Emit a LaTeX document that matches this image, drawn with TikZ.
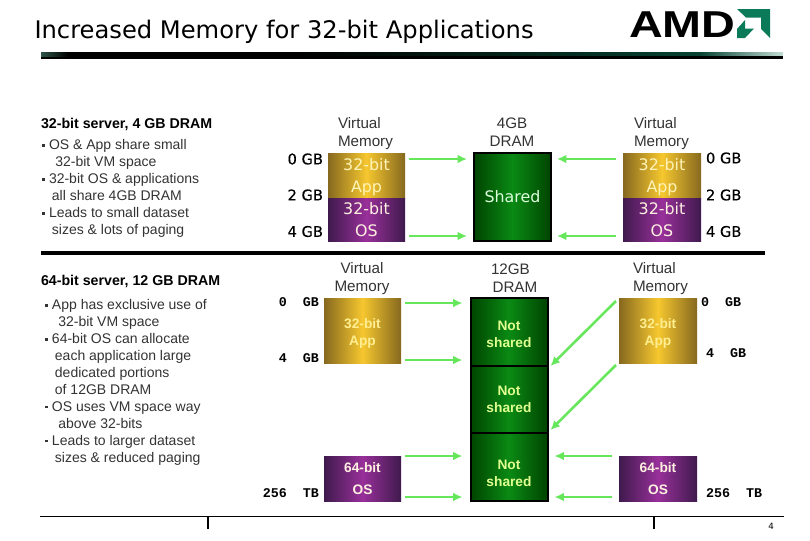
\documentclass[tikz,border=0pt]{standalone}
\usepackage{fontspec}
\setmainfont{Liberation Sans}
\newfontfamily\verd{DejaVu Sans}
\newfontfamily\verdb[FakeBold=0.25]{DejaVu Sans}
\newfontfamily\monob{Liberation Mono}
\definecolor{appedge}{HTML}{86691F}
\definecolor{appmid}{HTML}{F6C72F}
\definecolor{osedge}{HTML}{3F1A4D}
\definecolor{osmid}{HTML}{98309A}
\definecolor{ramedge}{HTML}{004400}
\definecolor{rammid}{HTML}{0A8A14}
\definecolor{flowgreen}{HTML}{66E65A}
\definecolor{amdgreen}{HTML}{0B7A58}
\definecolor{apptext}{HTML}{FFEE90}
\definecolor{apptextlight}{HTML}{FFF4B8}
\definecolor{ostext}{HTML}{FFF0E0}
\definecolor{ramtext}{HTML}{E0FF90}
\definecolor{sharedtext}{HTML}{DDFFDD}
\usetikzlibrary{arrows.meta}
\tikzset{
 x=0.75pt,y=-0.75pt,
 every node/.style={inner sep=0pt,outer sep=0pt},
 block/.style 2 args={anchor=north west,minimum width=#1*0.75pt,minimum height=#2*0.75pt,align=center},
 appbox/.style={left color=appedge,right color=appedge,middle color=appmid,text=apptext},
 osbox/.style={left color=osedge,right color=osedge,middle color=osmid,text=ostext},
 rambox/.style={left color=ramedge,right color=ramedge,middle color=rammid,draw=black,line width=1.5pt,text=ramtext},
 flow/.style={draw=flowgreen,line width=1.9pt,-{Latex[length=7pt,width=6.5pt]}},
 head/.style={font=\fontsize{11.4}{13.5}\selectfont\color{black!80},align=center},
 headl/.style={head,align=left,anchor=west},
 gb/.style={font=\verdb\fontsize{11}{12}\selectfont,anchor=east},
 tb/.style={font=\monob\bfseries\fontsize{10}{12}\selectfont,anchor=east},
 blurb/.style={font=\fontsize{10.5}{12.7}\selectfont\color{black!80},align=left,anchor=north west},
 bhead/.style={font=\bfseries\fontsize{10.65}{12}\selectfont,anchor=west},
 vtext/.style={font=\verd\fontsize{11.9}{16.5}\selectfont},
 btext/.style={font=\bfseries\fontsize{10.3}{12.75}\selectfont},
 otext/.style={font=\bfseries\fontsize{10.3}{16}\selectfont},
 rule/.style={fill=black,draw=none},
}
\newcommand{\bul}{\rule[0.2em]{0.2em}{0.2em}\hspace{0.3em}}
\newcommand{\pad}[1]{\rule{0pt}{#1}}
\begin{document}
\begin{tikzpicture}
\useasboundingbox (0,0) rectangle (810,540);
% title
\node[anchor=west,font=\verd\fontsize{18.15}{20}\selectfont] (title) at (34.5,31.5) {Increased Memory for 32-bit Applications};
% title rule
\fill[black] (41,52) rectangle (783,59);
\fill[left color=amdgreen!45!black!85!white,right color=black] (41,52) rectangle (68,56);
\fill[left color=black,right color=amdgreen!55!black] (300,52) rectangle (700,55);
\fill[left color=amdgreen!55!black,right color=amdgreen!25!white] (700,52) rectangle (783,55);
% AMD logo
\node[anchor=west,font=\bfseries\fontsize{24}{24}\selectfont] (amd) at (629,24.5) {\scalebox{1.46}[1.17]{AMD}};
\fill[amdgreen] (737,9) -- (770,9) -- (770,38) -- (761,29) -- (761,17.5) -- (746,17.5) -- cycle;
\fill[amdgreen] (737,29) -- (745,20) -- (745,28.5) -- (754,28.5) -- (745,38) -- (737,38) -- cycle;
% separators
\fill[rule] (41,251) rectangle (765,255);
\draw[line width=1pt] (40,516.5) -- (784,516.5);
\draw[line width=1pt] (208,516.5) -- (208,529);
\draw[line width=1pt] (654,516.5) -- (654,529);
\node[font=\verd\fontsize{6.5}{8}\selectfont] (pg) at (771,526) {4};
% left text
\node[bhead] (h1) at (41,124.5) {32-bit server, 4 GB DRAM};
\node[blurb] (t1) at (42,139.5) {\bul OS \& App share small\\\hspace*{0.95em}32-bit VM space\\\bul 32-bit OS \& applications\\\hspace*{0.71em}all share 4GB DRAM\\\bul Leads to small dataset\\\hspace*{0.71em}sizes \& lots of paging};
\node[bhead] (h2) at (41,281.5) {64-bit server, 12 GB DRAM};
\node[blurb] (t2) at (45,299.5) {\bul App has exclusive use of\\\hspace*{0.95em}32-bit VM space\\\bul 64-bit OS can allocate\\\hspace*{0.71em}each application large\\\hspace*{0.71em}dedicated portions\\\hspace*{0.71em}of 12GB DRAM\\\bul OS uses VM space way\\\hspace*{0.95em}above 32-bits\\\bul Leads to larger dataset\\\hspace*{0.71em}sizes \& reduced paging};
% column heads
\node[headl] (c1) at (338,133.5) {Virtual\\Memory};
\node[head] (c2) at (512,132.5) {4GB\\DRAM};
\node[headl] (c3) at (634,133.5) {Virtual\\Memory};
\node[head] (c4) at (362,278.5) {Virtual\\Memory};
\node[headl] (c5) at (491,278) {12GB\\\hspace*{0.1em}DRAM};
\node[headl] (c6) at (633,278.5) {Virtual\\Memory};
% upper blocks
\node[block={77}{45},appbox,vtext,text=apptextlight] (a1) at (328,153) {\pad{11.8pt}32-bit\\App};
\node[block={77}{43},osbox,vtext] (o1) at (328,198) {32-bit\\OS};
\node[block={77}{88},rambox,vtext,text=sharedtext] (r1) at (474,153) {Shared};
\node[block={78}{45},appbox,vtext,text=apptextlight] (a2) at (623,153) {\pad{11.8pt}32-bit\\App};
\node[block={78}{43},osbox,vtext] (o2) at (623,198) {32-bit\\OS};
% lower blocks
\node[block={77}{65},appbox,btext] (a3) at (324,298) {\pad{11.5pt}32-bit\\App};
\node[block={77}{45},osbox,otext] (o3) at (324,456) {64-bit\\OS};
\node[block={77}{68},rambox,btext] (r2) at (470.5,298) {\pad{10pt}Not\\shared};
\node[block={77}{67},rambox,btext] (r3) at (470.5,366) {Not\\shared};
\node[block={77}{68},rambox,btext] (r4) at (470.5,433) {\pad{17pt}Not\\shared};
\node[block={78}{65},appbox,btext] (a4) at (619,298) {\pad{11.5pt}32-bit\\App};
\node[block={78}{45},osbox,otext] (o4) at (619,456) {64-bit\\OS};
% sizes
\node[gb] (g1) at (323,159) {0 GB};
\node[gb] (g2) at (323,195) {2 GB};
\node[gb] (g3) at (323,231.5) {4 GB};
\node[gb,anchor=west] (g4) at (706,158) {0 GB};
\node[gb,anchor=west] (g5) at (706,195) {2 GB};
\node[gb,anchor=west] (g6) at (706,231.5) {4 GB};
\node[tb] (g7) at (319,302) {0\ \ GB};
\node[tb] (g8) at (319,358) {4\ \ GB};
\node[tb] (g9) at (319,493) {256\ \ TB};
\node[tb,anchor=west] (g10) at (701,302) {0\ \ GB};
\node[tb,anchor=west] (g11) at (706,353) {4\ \ GB};
\node[tb,anchor=west] (g12) at (706,493) {256\ \ TB};
% connectors
\draw[flow] ([shift={(4,6)}]a1.north east) -- ([shift={(-7,6)}]r1.north west);
\draw[flow] ([shift={(4,-5)}]o1.south east) -- ([shift={(-7,-5)}]r1.south west);
\draw[flow] ([shift={(-7,6)}]a2.north west) -- ([shift={(6,6)}]r1.north east);
\draw[flow] ([shift={(-7,-5)}]o2.south west) -- ([shift={(6,-5)}]r1.south east);
\draw[flow] ([shift={(4,5)}]a3.north east) -- ([shift={(-8,5)}]r2.north west);
\draw[flow] ([shift={(4,-3)}]a3.south east) -- ([shift={(-8,-6)}]r2.south west);
\draw[flow] ([shift={(4,0)}]o3.north east) -- ([shift={(-8,23)}]r4.north west);
\draw[flow] ([shift={(4,-4)}]o3.south east) -- ([shift={(-8,-4)}]r4.south west);
\draw[flow] ([shift={(-3,3)}]a4.north west) -- ([shift={(3,0)}]r2.south east);
\draw[flow] ([shift={(-3,2)}]a4.south west) -- ([shift={(3,-3)}]r3.south east);
\draw[flow] ([shift={(-7,0)}]o4.north west) -- ([shift={(7,23)}]r4.north east);
\draw[flow] ([shift={(-7,-4)}]o4.south west) -- ([shift={(7,-4)}]r4.south east);
\end{tikzpicture}
\end{document}
